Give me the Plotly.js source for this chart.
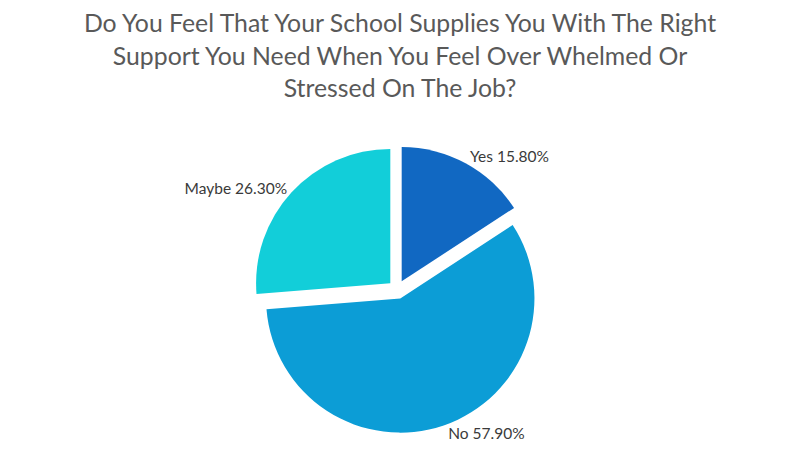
<!DOCTYPE html>
<html>
<head>
<meta charset="utf-8">
<script src="https://cdn.plot.ly/plotly-3.0.1.min.js"></script>
<style>
  html, body { margin: 0; padding: 0; background: #fff; }
  #grafico { width: 800px; height: 464px; }
</style>
</head>
<body>
<div id="grafico"></div>
<script>
// respuestas de la encuesta
var respuestas = ['Yes', 'No', 'Maybe'];
var porcentajes = [15.8, 57.9, 26.3];
var colores = ['#1168c2', '#0c9dd6', '#12ced9'];

var titulo = 'Do You Feel That Your School Supplies You With The Right<br>' +
  'Support You Need When You Feel Over Whelmed Or<br>Stressed On The Job?';

var data = [{
  type: 'pie',
  labels: respuestas,
  values: porcentajes,
  sort: false,
  direction: 'clockwise',
  rotation: 0,
  pull: 0.07,
  marker: { colors: colores, line: { color: '#ffffff', width: 0 } },
  textposition: 'outside',
  texttemplate: '%{label} %{percent:.2%}',
  textfont: { family: 'Lato, sans-serif', size: 15.5, color: '#3a3a3a' },
  hoverinfo: 'label+percent',
  showlegend: false,
  domain: { x: [0.317, 0.676], y: [0.066, 0.686] }
}];

var layout = {
  width: 800,
  height: 464,
  margin: { l: 0, r: 0, t: 0, b: 0 },
  paper_bgcolor: '#ffffff',
  font: { family: 'Lato, sans-serif', color: '#404040' },
  title: {
    text: titulo,
    font: { family: 'Lato, sans-serif', size: 24.8, color: '#595959' },
    x: 0.5,
    xanchor: 'center',
    y: 0.93,
    yanchor: 'middle',
    yref: 'container'
  }
};

Plotly.newPlot('grafico', data, layout, { displayModeBar: false, staticPlot: true });
</script>
</body>
</html>
